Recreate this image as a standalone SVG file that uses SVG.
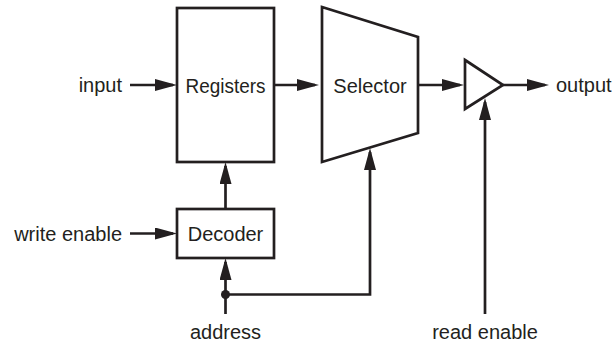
<svg xmlns="http://www.w3.org/2000/svg" width="612" height="346" viewBox="0 0 612 346">
<style>
.box{fill:#fff;stroke:#231f20;stroke-width:2.7;stroke-linejoin:miter}
.wire{fill:none;stroke:#231f20;stroke-width:2.7}
.lbl{font-family:"Liberation Sans",Arial,sans-serif;font-size:20px;fill:#231f20}
.mid{text-anchor:middle}
</style>
<defs>
<marker id="arr" markerUnits="userSpaceOnUse" markerWidth="22" markerHeight="12" refX="18" refY="6" orient="auto" viewBox="0 0 22 12">
<path d="M0,0 L22,6 L0,12 z" fill="#231f20"/>
</marker>
</defs>
<rect width="612" height="346" fill="#fff"/>
<g id="registers">
<rect class="box" x="177" y="8" width="97" height="154"/>
<text class="lbl mid" x="225.5" y="93" textLength="80" lengthAdjust="spacingAndGlyphs">Registers</text>
</g>
<g id="selector">
<polygon class="box" points="322,7 418,37 418,133 322,162"/>
<text class="lbl mid" x="370" y="93">Selector</text>
</g>
<g id="buffer">
<polygon class="box" points="465,60 503,85 465,109"/>
</g>
<g id="decoder">
<rect class="box" x="177" y="209" width="97" height="49"/>
<text class="lbl mid" x="225.5" y="241">Decoder</text>
</g>
<g id="labels">
<text class="lbl" x="122" y="92" text-anchor="end">input</text>
<text class="lbl" x="122" y="241" text-anchor="end">write enable</text>
<text class="lbl" x="556" y="92">output</text>
<text class="lbl mid" x="225.5" y="339">address</text>
<text class="lbl mid" x="485" y="339">read enable</text>
</g>
<g id="connectors">
<line class="wire" x1="130" y1="85" x2="173" y2="85" marker-end="url(#arr)"/>
<line class="wire" x1="275" y1="85" x2="315" y2="85" marker-end="url(#arr)"/>
<line class="wire" x1="418" y1="85" x2="460" y2="85" marker-end="url(#arr)"/>
<line class="wire" x1="503" y1="85" x2="545" y2="85" marker-end="url(#arr)"/>
<line class="wire" x1="130" y1="233.5" x2="173" y2="233.5" marker-end="url(#arr)"/>
<line class="wire" x1="225.5" y1="209" x2="225.5" y2="166" marker-end="url(#arr)"/>
<line class="wire" x1="225.5" y1="314" x2="225.5" y2="262" marker-end="url(#arr)"/>
<polyline class="wire" points="225.5,294.5 370,294.5 370,152" marker-end="url(#arr)"/>
<line class="wire" x1="485" y1="314" x2="485" y2="102" marker-end="url(#arr)"/>
<circle cx="225.5" cy="294.5" r="4.5" fill="#231f20"/>
</g>
</svg>
